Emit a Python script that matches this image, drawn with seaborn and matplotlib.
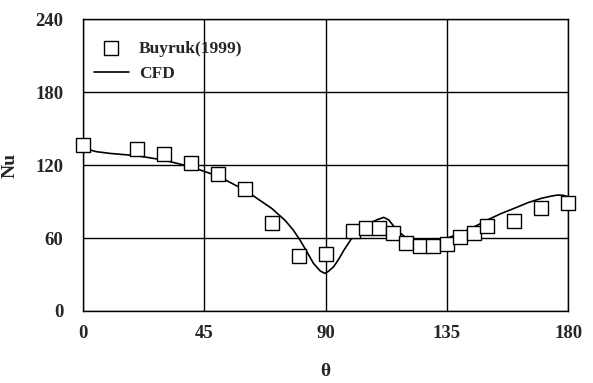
import numpy as np
import pandas as pd
import matplotlib
matplotlib.use("Agg")
import matplotlib.pyplot as plt
import seaborn as sns

# experimental data (Buyruk 1999)
exp_theta = [0, 20, 30, 40, 50, 60, 70, 80, 90, 100, 105, 110, 115, 120, 125, 130,
             135, 140, 145, 150, 160, 170, 180]
exp_nu = [136.5, 133.5, 129, 122, 113, 100, 72.5, 45, 46.5, 65.5, 68, 68.5, 64, 56,
          53.5, 53.5, 55.5, 60.5, 64, 69.5, 74, 84.5, 89]

# CFD curve
cfd_theta = [0, 5, 10, 20, 30, 40, 50, 60, 70, 75, 78, 80.5, 83, 85.5, 88, 89.6, 91,
             93, 95, 96.8, 100.5, 105.4, 109, 111.6, 113.5, 116.4, 120.1, 123, 126.3,
             131.3, 135, 140, 145, 150, 155, 160, 165, 170, 174, 176, 178, 180]
cfd_nu = [134, 131, 129.6, 127.7, 124.1, 118.6, 111, 99.5, 84.4, 74.5, 66.6, 58.4, 49,
          39.2, 33, 31, 32.5, 36.4, 43, 50, 62.5, 70.7, 75, 77, 74.8, 66.6, 59.8, 57,
          55.6, 57, 59.8, 63.9, 69, 74.8, 80, 84.4, 89, 92.6, 94.6, 95.3, 95.2, 94]

exp_df = pd.DataFrame({"theta": exp_theta, "Nu": exp_nu})
cfd_df = pd.DataFrame({"theta": cfd_theta, "Nu": cfd_nu})

sns.set_style("white")
plt.rcParams["font.family"] = ["Liberation Serif", "DejaVu Serif"]
plt.rcParams["font.weight"] = "bold"

fig = plt.figure(figsize=(5.93, 3.83), dpi=100)
ax = fig.add_axes([0.14, 0.188, 0.818, 0.762])

sns.scatterplot(data=exp_df, x="theta", y="Nu", ax=ax, marker="s", s=100,
                facecolor="white", edgecolor="black", linewidth=1.0,
                label="Buyruk(1999)", zorder=3, clip_on=False)
sns.lineplot(data=cfd_df, x="theta", y="Nu", ax=ax, color="black", linewidth=1.2,
             label="CFD", zorder=2)

ax.set_xlim(0, 180)
ax.set_ylim(0, 240)
ax.set_xticks([0, 45, 90, 135, 180])
ax.set_yticks([0, 60, 120, 180, 240])
ax.grid(True, color="black", linewidth=1.0)
for s in ax.spines.values():
    s.set_color("black")
    s.set_linewidth(1.0)
ax.tick_params(axis="both", direction="out", length=4, color="black",
               labelsize=13.5)
ax.tick_params(axis="x", pad=6)
ax.tick_params(axis="y", pad=10)
for lab in ax.get_xticklabels() + ax.get_yticklabels():
    lab.set_fontweight("bold")

ax.set_xlabel("θ", fontsize=14, fontweight="bold", labelpad=15)
ax.set_ylabel("Nu", fontsize=14, fontweight="bold", labelpad=12)

leg = ax.legend(loc="upper left", frameon=False, fontsize=12.5,
                bbox_to_anchor=(-0.01, 0.98), handlelength=2.0, handletextpad=0.6,
                labelspacing=0.5)
for t in leg.get_texts():
    t.set_fontweight("bold")

fig.savefig("out.png", dpi=100)
